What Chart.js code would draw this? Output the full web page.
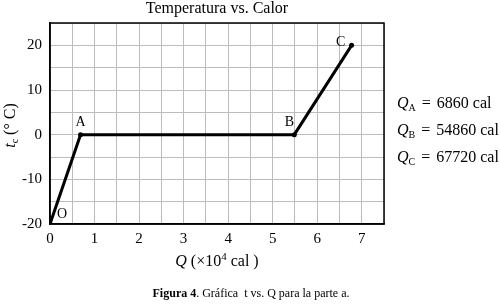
<!DOCTYPE html>
<html lang="es">
  <head>
    <meta charset="UTF-8" />
    <title>Temperatura vs. Calor</title>
    <style>
      html, body { margin: 0; padding: 0; background: #fff; }
      #wrap { width: 500px; height: 307px; }
    </style>
  </head>
  <body>
    <div id="wrap"><canvas id="myChart" width="500" height="307"></canvas></div>

    <script src="https://cdn.jsdelivr.net/npm/chart.js"></script>
    <script>
      // Q in units of 10^4 cal, temperature in degrees C
      const pointNames = ["O", "A", "B", "C"];
      const heatQ = [0, 0.686, 5.486, 6.772];
      const tempC = [-20, 0, 0, 20];
      const legendLines = [
        ["Q", "A", "6860 cal"],
        ["Q", "B", "54860 cal"],
        ["Q", "C", "67720 cal"],
      ];

      const serif = '"Liberation Serif", "DejaVu Serif", serif';
      // where each point label sits relative to its point (px)
      const labelOffsets = [[12, -10], [0, -12], [-5, -12], [-11, -3]];

      const extras = {
        id: "extras",
        afterDraw(chart) {
          const c = chart.ctx;
          const a = chart.chartArea;
          const xs = chart.scales.x, ys = chart.scales.y;
          c.save();
          // frame
          c.strokeStyle = "#000";
          c.lineWidth = 1.5;
          c.strokeRect(a.left, a.top, a.right - a.left, a.bottom - a.top);

          // point labels
          c.fillStyle = "#000";
          c.font = "14px " + serif;
          c.textAlign = "center";
          c.textBaseline = "middle";
          pointNames.forEach((n, i) => {
            const px = xs.getPixelForValue(heatQ[i]);
            const py = ys.getPixelForValue(tempC[i]);
            c.fillText(n, px + labelOffsets[i][0], py + labelOffsets[i][1]);
          });

          // title
          c.font = "16px " + serif;
          c.fillText("Temperatura vs. Calor", (a.left + a.right) / 2, 9);

          // x axis title
          const cx = (a.left + a.right) / 2;
          c.font = "italic 16px " + serif;
          const qw = c.measureText("Q").width;
          c.font = "16px " + serif;
          const p1 = " (×10", p2 = " cal )";
          const w1 = c.measureText(p1).width, w2 = c.measureText(p2).width;
          c.font = "11px " + serif;
          const w4 = c.measureText("4").width;
          let x0 = cx - (qw + w1 + w4 + w2) / 2;
          c.textAlign = "left";
          c.font = "italic 16px " + serif;
          c.fillText("Q", x0, 262);
          c.font = "16px " + serif;
          c.fillText(p1, x0 + qw, 262);
          c.font = "11px " + serif;
          c.fillText("4", x0 + qw + w1, 257);
          c.font = "16px " + serif;
          c.fillText(p2, x0 + qw + w1 + w4, 262);

          // y axis title
          c.save();
          c.translate(11, (a.top + a.bottom) / 2 + 2);
          c.rotate(-Math.PI / 2);
          c.textAlign = "left";
          const yt = " (° C)";
          c.font = "italic 16px " + serif;
          const tw = c.measureText("t").width;
          c.font = "10px " + serif;
          const sw = c.measureText("c").width;
          c.font = "16px " + serif;
          const yw = c.measureText(yt).width;
          let y0 = -(tw + sw + yw) / 2;
          c.font = "italic 16px " + serif;
          c.fillText("t", y0, 0);
          c.font = "10px " + serif;
          c.fillText("c", y0 + tw, 4);
          c.font = "16px " + serif;
          c.fillText(yt, y0 + tw + sw, 0);
          c.restore();

          // right-side values
          legendLines.forEach((l, i) => {
            const y = 104 + i * 27;
            let x = 397;
            c.font = "italic 16px " + serif;
            c.fillText(l[0], x, y);
            x += c.measureText(l[0]).width;
            c.font = "10px " + serif;
            c.fillText(l[1], x, y + 4);
            x += c.measureText(l[1]).width + 6;
            c.font = "16px " + serif;
            c.fillText("=", x, y);
            x += c.measureText("=").width + 6;
            c.fillText(l[2], x, y);
          });

          // caption
          c.font = "bold 12px " + serif;
          const cap1 = "Figura 4";
          const cap2 = ". Gráfica  t vs. Q para la parte a.";
          const cw1 = c.measureText(cap1).width;
          c.font = "12px " + serif;
          const cw2 = c.measureText(cap2).width;
          let cxs = 251 - (cw1 + cw2) / 2;
          c.font = "bold 12px " + serif;
          c.fillText(cap1, cxs, 294);
          c.font = "12px " + serif;
          c.fillText(cap2, cxs + cw1, 294);
          c.restore();
        },
      };

      const ctx = document.getElementById("myChart").getContext("2d");
      new Chart(ctx, {
        type: "scatter",
        data: {
          datasets: [
            {
              data: heatQ.map((q, i) => ({ x: q, y: tempC[i] })),
              showLine: true,
              borderColor: "#000",
              backgroundColor: "#000",
              borderWidth: 3,
              pointRadius: 2.5,
              pointBorderWidth: 0,
              tension: 0,
            },
          ],
        },
        options: {
          responsive: false,
          animation: false,
          layout: { padding: { top: 23, right: 116, left: 0, bottom: 0 } },
          plugins: { legend: { display: false }, tooltip: { enabled: false } },
          scales: {
            x: {
              type: "linear",
              min: 0,
              max: 7.5,
              afterFit(s) { s.height = 83; },
              grid: { color: "#bcbcbc", lineWidth: 1, drawTicks: false },
              border: { color: "#000", width: 1.5 },
              ticks: {
                stepSize: 0.5,
                padding: 6,
                color: "#000",
                font: { family: serif, size: 15 },
                maxRotation: 0,
                autoSkip: false,
                callback: (v) => (Number.isInteger(v) ? v : ""),
              },
            },
            y: {
              min: -20,
              max: 25,
              afterFit(s) { s.width = 50; },
              grid: { color: "#bcbcbc", lineWidth: 1, drawTicks: false },
              border: { color: "#000", width: 1.5 },
              ticks: {
                stepSize: 5,
                padding: 8,
                color: "#000",
                font: { family: serif, size: 15 },
                autoSkip: false,
                callback: (v) => (v % 10 === 0 ? v : ""),
              },
            },
          },
        },
        plugins: [extras],
      });
    </script>
  </body>
</html>
